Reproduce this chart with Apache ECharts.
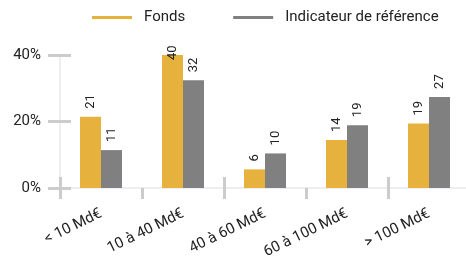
<!DOCTYPE html>
<html>
<head>
<meta charset="utf-8">
<script src="https://cdn.jsdelivr.net/npm/echarts@6/dist/echarts.min.js"></script>
<style>
  html, body { margin: 0; padding: 0; background: #fff; }
  #chart { width: 466px; height: 257px; }
</style>
</head>
<body>
<div id="chart"></div>
<script>
// categories de capitalisation
const categories = ["< 10 Md€", "10 à 40 Md€", "40 à 60 Md€", "60 à 100 Md€", "> 100 Md€"];
// valeurs en %
const fondsValues = [21.4, 40.0, 5.6, 14.4, 19.4];
const indiceValues = [11.4, 32.4, 10.4, 18.9, 27.4];
const seriesNames = ["Fonds", "Indicateur de référence"];
const yTicks = [0, 20, 40];

const GOLD = "#E6B23D";
const GREY = "#808080";
const AXIS_LINE = "#EDEDF3";
const TICK = "#CCCCCC";
const FONT = "Roboto";

// les barres trop hautes : l'étiquette descend sur la barre
function toData(values) {
  return values.map((v) => {
    if (v > 38)
      return { value: v, label: { distance: -5 } };
    return v;
  });
}

function barSerie(name, values, color) {
  return {
    name: name,
    type: "bar",
    barWidth: 21,
    barGap: "0%",
    itemStyle: { color: color },
    label: {
      show: true,
      position: "top",
      rotate: 90,
      align: "left",
      verticalAlign: "middle",
      distance: 8,
      color: "#222",
      fontFamily: FONT,
      fontSize: 13,
      formatter: (p) => Math.round(p.value)
    },
    data: toData(values)
  };
}

let chart = echarts.init(document.getElementById("chart"));
chart.setOption({
  animation: false,
  textStyle: { fontFamily: FONT },
  legend: {
    left: 87,
    top: 5,
    icon: "rect",
    itemWidth: 40,
    itemHeight: 3,
    itemGap: 48,
    textStyle: { fontFamily: FONT, fontSize: 15, color: "#222", padding: [0, 0, 0, 7] },
    data: seriesNames
  },
  grid: { left: 60, right: -4, top: 55, bottom: 69, containLabel: false, outerBoundsMode: "none" },
  xAxis: [
    {
      type: "category",
      data: categories,
      axisLine: { show: true, lineStyle: { color: AXIS_LINE, width: 2 } },
      axisTick: { show: true, length: 11, lineStyle: { color: TICK, width: 3 } },
      axisLabel: {
        rotate: 26,
        margin: 25,
        fontFamily: FONT,
        fontSize: 15,
        color: "#222",
        interval: 0
      }
    },
    {
      type: "category",
      data: categories,
      position: "bottom",
      axisLine: { show: false },
      axisTick: { show: true, inside: true, length: 11, lineStyle: { color: TICK, width: 3 } },
      axisLabel: { show: false }
    }
  ],
  yAxis: [
    {
      type: "value",
      min: yTicks[0],
      max: yTicks[yTicks.length - 1],
      interval: yTicks[1] - yTicks[0],
      axisLine: { show: true, lineStyle: { color: AXIS_LINE, width: 2 } },
      axisTick: { show: true, length: 12, lineStyle: { color: TICK, width: 3 } },
      splitLine: { show: false },
      axisLabel: {
        margin: 19,
        fontFamily: FONT,
        fontSize: 15,
        color: "#222",
        formatter: "{value}%"
      }
    },
    {
      type: "value",
      position: "left",
      min: yTicks[0],
      max: yTicks[yTicks.length - 1],
      interval: yTicks[1] - yTicks[0],
      axisLine: { show: false },
      axisTick: { show: true, inside: true, length: 11, lineStyle: { color: TICK, width: 3 } },
      splitLine: { show: false },
      axisLabel: { show: false }
    }
  ],
  series: [
    barSerie(seriesNames[0], fondsValues, GOLD),
    barSerie(seriesNames[1], indiceValues, GREY)
  ]
});
</script>
</body>
</html>
